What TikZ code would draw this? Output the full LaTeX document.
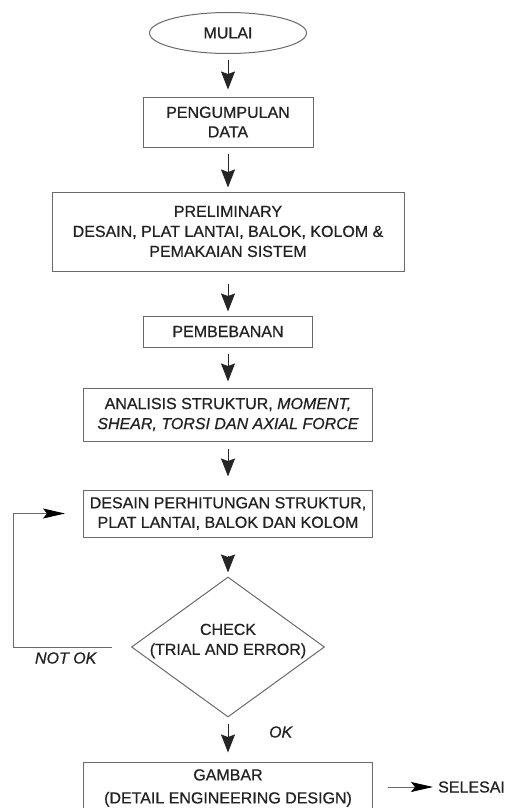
\documentclass[tikz,border=0pt]{standalone}
\usepackage{fontspec}
\setmainfont{Liberation Sans}[
  BoldFont=Liberation Sans, BoldFeatures={FakeBold=0.6},
  BoldItalicFont=Liberation Sans Italic, BoldItalicFeatures={FakeBold=0.6}]
\usetikzlibrary{shapes.geometric,arrows.meta}
\definecolor{linegray}{HTML}{6A6A6A}
\definecolor{txt}{HTML}{222222}
\begin{document}
\begin{tikzpicture}[x=1pt,y=-1pt,
  every node/.style={text=txt},
  lbl/.style={font=\fontsize{16}{19.5}\selectfont\bfseries, align=center, inner sep=0pt},
  box/.style={lbl, draw=linegray, line width=1pt, rectangle},
  varr/.style={draw=black!85, line width=0.9pt, -{Stealth[length=18pt,width=14pt,inset=2.5pt]}},
  harr/.style={draw=linegray, line width=1pt, -{Stealth[length=22pt,width=10pt,inset=4pt,color=black,fill=black]}}
]
\useasboundingbox[fill=white] (0,0) rectangle (505,808);

\node[lbl, ellipse, draw=linegray, line width=1pt, minimum width=157pt, minimum height=41pt] (mulai) at (228,33) {MULAI};
\node[box, minimum width=170pt, minimum height=50pt] (data) at (228,122) {PENGUMPULAN\\DATA};
\node[box, minimum width=352pt, minimum height=79pt, font=\fontsize{16}{20}\selectfont\bfseries] (prelim) at (228,231.5) {PRELIMINARY\\DESAIN, PLAT LANTAI, BALOK, KOLOM \&\\PEMAKAIAN SISTEM};
\node[box, minimum width=169pt, minimum height=31pt] (beban) at (228,331.5) {PEMBEBANAN};
\node[box, minimum width=289pt, minimum height=53pt, font=\fontsize{16}{20}\selectfont\bfseries] (analisis) at (228,414.5) {ANALISIS STRUKTUR, \textit{MOMENT,}\\\textit{SHEAR, TORSI DAN AXIAL FORCE}};
\node[box, minimum width=289pt, minimum height=47pt] (desain) at (228,513.5) {DESAIN PERHITUNGAN STRUKTUR,\\PLAT LANTAI, BALOK DAN KOLOM};
\node[diamond, draw=linegray, line width=1pt, minimum width=193pt, minimum height=140pt, inner sep=0pt] (check) at (228,647) {};
\node[lbl, font=\fontsize{16}{20}\selectfont\bfseries] (checktext) at (228,641) {CHECK\\(TRIAL AND ERROR)};
\node[box, minimum width=289pt, minimum height=52pt, font=\fontsize{16}{23}\selectfont\bfseries] (gambar) at (228,788) {GAMBAR\\(DETAIL ENGINEERING DESIGN)};
\node[lbl, anchor=west] (selesai) at (438,787) {SELESAI};
\node[lbl] (notok) at (66,658) {\textit{NOT OK}};
\node[lbl] (ok) at (281,732) {\textit{OK}};

\draw[varr, shorten <=6pt, shorten >=7pt] (mulai.south) -- (data.north);
\draw[varr, shorten <=6pt, shorten >=4pt] (data.south) -- (prelim.north);
\draw[varr, shorten <=12pt, shorten >=4pt] (prelim.south) -- (beban.north);
\draw[varr, shorten <=6pt, shorten >=6pt] (beban.south) -- (analisis.north);
\draw[varr, shorten <=7pt, shorten >=13pt] (analisis.south) -- (desain.north);
\draw[varr, shorten <=18pt, shorten >=4pt] (desain.south) -- (check.north);
\draw[varr, shorten <=6pt, shorten >=9pt] (check.south) -- (gambar.north);

\draw[harr] ([xshift=-19pt]check.west) -- ++(-99pt,0) |- ([xshift=-18pt]desain.west);
\draw[harr, shorten <=15pt, shorten >=5pt] (selesai.west -| gambar.east) -- (selesai.west);
\end{tikzpicture}
\end{document}
